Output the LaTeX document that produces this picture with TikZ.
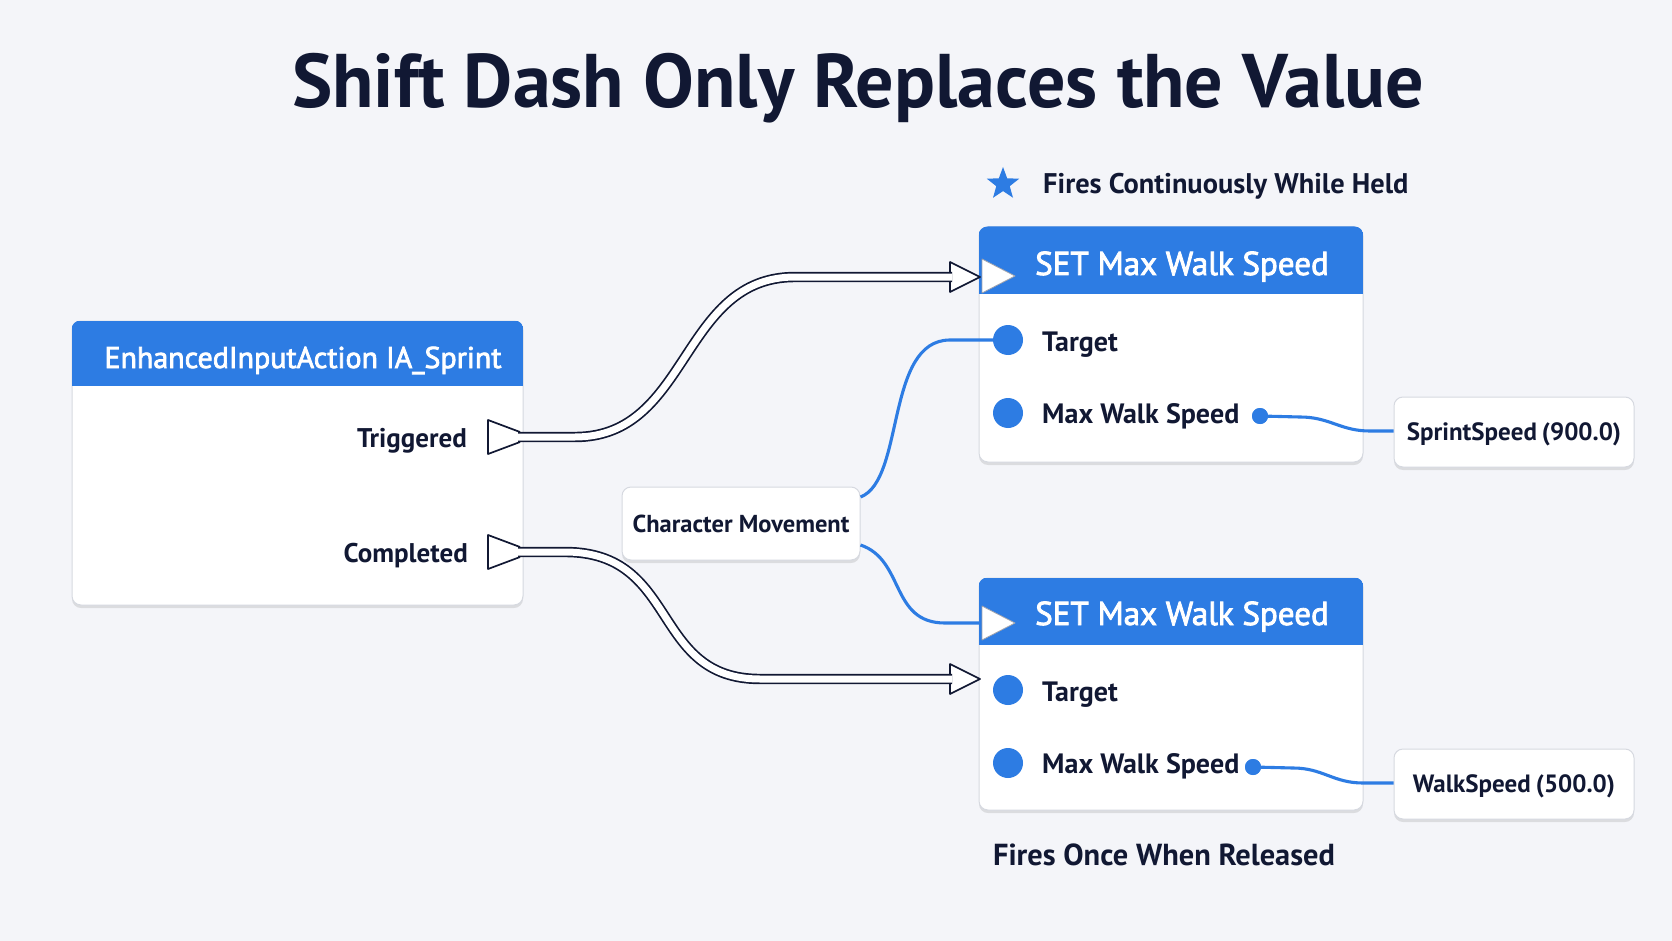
\documentclass[tikz,border=0pt]{standalone}
\usepackage{fontspec}
\setmainfont{PT Sans}
\newfontfamily\medfont{PT Sans}[FakeBold=2.5]
\usetikzlibrary{shadows,shapes.geometric}
\definecolor{bg}{HTML}{F4F5F9}
\definecolor{hdr}{HTML}{2D7CE3}
\definecolor{ink}{HTML}{111833}
\definecolor{edgegray}{HTML}{D6D9E0}
\tikzset{
  nodebox/.style={draw=edgegray, line width=1pt, fill=white, rounded corners=9pt,
    drop shadow={shadow xshift=0pt, shadow yshift=-3pt, opacity=0.10, fill=black}},
  hdrtext/.style={text=white, font=\medfont\fontsize{30}{36}\selectfont, anchor=base, inner sep=0pt},
  settext/.style={text=white, font=\medfont\fontsize{33}{40}\selectfont, anchor=base, inner sep=0pt},
  lbl/.style={text=ink, font=\bfseries\fontsize{27}{32}\selectfont, inner sep=0pt, anchor=base east},
  pinlbl/.style={text=ink, font=\bfseries\fontsize{28}{34}\selectfont, inner sep=0pt, anchor=base west},
  vallbl/.style={text=ink, font=\bfseries\fontsize{25}{30}\selectfont, text height=17.5pt, text depth=0pt},
  datapin/.style={circle, fill=hdr, minimum size=30pt, inner sep=0pt},
  outpin/.style={circle, fill=hdr, minimum size=16pt, inner sep=0pt},
  execwire/.style={draw=ink, double=white, double distance=7pt, line width=1.7pt},
  arrowhd/.style={draw=ink, fill=white, line width=1.7pt, line join=round},
  datawire/.style={draw=hdr, line width=3.1pt},
}
\begin{document}
\begin{tikzpicture}[x=1pt,y=-1pt]
\useasboundingbox (0,0) rectangle (1672,941);
\fill[bg] (0,0) rectangle (1672,941);

% title
\node[text=ink, font=\bfseries\fontsize{76}{88}\selectfont, anchor=base, inner sep=0pt] (title) at (858,108) {Shift Dash Only Replaces the Value};

% IA node
\node[nodebox, minimum width=451pt, minimum height=284pt] (ia) at (297.5,463) {};
\begin{scope}
  \clip[rounded corners=9pt] (ia.north west) rectangle (ia.south east);
  \fill[hdr] (ia.north west) rectangle ++(451,65);
\end{scope}
\node[hdrtext] (iat) at (303,368) {EnhancedInputAction IA\_Sprint};
\node[lbl] (trigl) at (467,447) {Triggered};
\node[lbl] (compl) at (468,562) {Completed};
\coordinate (trigpin) at (488,437);
\coordinate (comppin) at (488,552);
\coordinate (trigout) at (518,437);
\coordinate (compout) at (518,552);

% SET nodes
\node[nodebox, minimum width=384pt, minimum height=235pt] (set1) at (1171,344.5) {};
\begin{scope}
  \clip[rounded corners=9pt] (set1.north west) rectangle (set1.south east);
  \fill[hdr] (set1.north west) rectangle ++(384,67);
\end{scope}
\node[settext] (set1t) at (1182,275) {SET Max Walk Speed};

\node[nodebox, minimum width=384pt, minimum height=232pt] (set2) at (1171,694) {};
\begin{scope}
  \clip[rounded corners=9pt] (set2.north west) rectangle (set2.south east);
  \fill[hdr] (set2.north west) rectangle ++(384,67);
\end{scope}
\node[settext] (set2t) at (1182,625) {SET Max Walk Speed};

% exec pin positions
\coordinate (ex1tip) at (980,277);
\coordinate (ex1base) at (950,277);
\coordinate (ex2tip) at (980,679);
\coordinate (ex2base) at (950,679);
\coordinate (ex1in) at (980,276);
\coordinate (ex2in) at (980,623);

% data pins
\node[datapin] (t1) at (1008,340) {};
\node[datapin] (m1) at (1008,413) {};
\node[datapin] (t2) at (1008,690) {};
\node[datapin] (m2) at (1008,763) {};
\node[pinlbl] (t1l) at (1042,351) {Target};
\node[pinlbl] (m1l) at (1042,423) {Max Walk Speed};
\node[pinlbl] (t2l) at (1042,701) {Target};
\node[pinlbl] (m2l) at (1042,773) {Max Walk Speed};
\node[outpin] (o1) at (1260,416) {};
\node[outpin] (o2) at (1253,767) {};

% value nodes
\node[nodebox, minimum width=240pt, minimum height=70pt, vallbl] (sprint) at (1514,432) {SprintSpeed\hspace{5pt}(900.0)};
\node[nodebox, minimum width=240pt, minimum height=70pt, vallbl] (walk) at (1514,784) {WalkSpeed\hspace{5pt}(500.0)};

% character movement
\node[nodebox, minimum width=238pt, minimum height=73pt, vallbl, font=\bfseries\fontsize{24.5}{30}\selectfont] (cm) at (741,523.5) {Character Movement};

% annotations
\node[star, star points=5, star point ratio=2.4, minimum size=34pt, inner sep=0pt, fill=hdr] (star) at (1003,184) {};
\node[text=ink, font=\bfseries\fontsize{28.4}{34}\selectfont, anchor=base west, inner sep=0pt] (held) at (1043,194) {Fires Continuously While Held};
\node[text=ink, font=\bfseries\fontsize{30.4}{36}\selectfont, inner sep=0pt, anchor=base] (rel) at (1164,865) {Fires Once When Released};

% data wires
\draw[datawire] (cm.east |- 0,497) .. controls (905,480) and (885,340) .. (950,340) -- (t1);
\draw[datawire] (cm.east |- 0,545) .. controls (905,560) and (890,623) .. (945,623) -- (ex2in);
\draw[datawire] (o1) -- (1300,417) .. controls (1330,417) and (1340,431) .. (1370,431) -- (sprint.west |- 0,431);
\draw[datawire] (o2) -- (1293,768) .. controls (1323,768) and (1333,783) .. (1363,783) -- (walk.west |- 0,783);
\node[outpin] at (o1) {};
\node[outpin] at (o2) {};

% exec pin triangles in headers
\draw[fill=white, draw=ink!40, line width=0.8pt, line join=round] (ex1in) ++(2,-17) -- ++(33,17) -- ++(-33,17) -- cycle;
\draw[fill=white, draw=ink!40, line width=0.8pt, line join=round] (ex2in) ++(2,-17) -- ++(33,17) -- ++(-33,17) -- cycle;

% exec output pins on IA node
\fill[white] (trigpin) ++(0,-17) -- ++(32,12) -- ++(0,10) -- ++(-32,12) -- cycle;
\draw[draw=ink, line width=1.7pt, line join=round] (trigpin) ++(32,-5) -- ++(-32,-12) -- ++(0,34) -- ++(32,-12);
\fill[white] (comppin) ++(0,-17) -- ++(32,12) -- ++(0,10) -- ++(-32,12) -- cycle;
\draw[draw=ink, line width=1.7pt, line join=round] (comppin) ++(32,-5) -- ++(-32,-12) -- ++(0,34) -- ++(32,-12);

% exec wires
\draw[arrowhd] (ex1tip) -- ++(-30,-15) -- ++(0,30) -- cycle;
\draw[arrowhd] (ex2tip) -- ++(-30,-15) -- ++(0,30) -- cycle;
\draw[execwire] (trigout) -- (575,437) .. controls (690,437) and (680,277) .. (795,277) -- ([xshift=2pt]ex1base);
\draw[execwire] (compout) -- (565,552) .. controls (680,552) and (650,679) .. (760,679) -- ([xshift=2pt]ex2base);
\end{tikzpicture}
\end{document}
